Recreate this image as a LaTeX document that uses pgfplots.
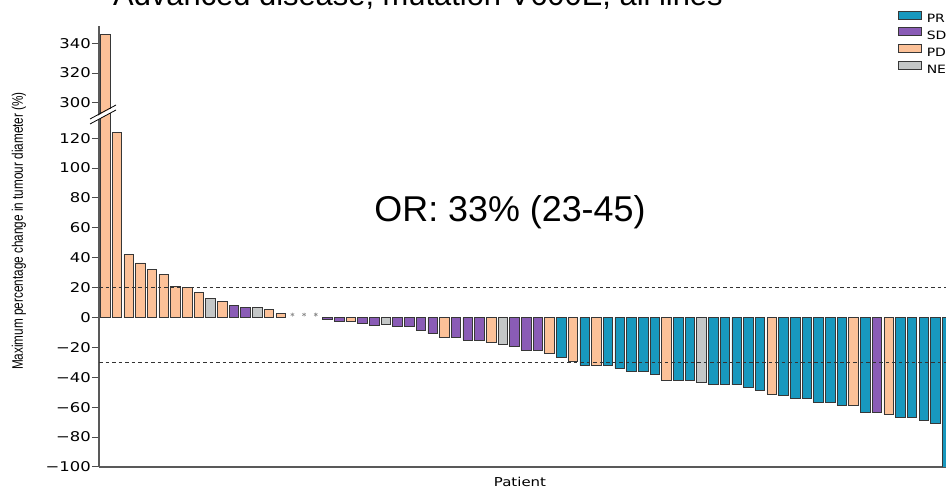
\documentclass[border=0pt]{standalone}
\usepackage{graphicx}
\usepackage{fontspec}
\setmainfont{Liberation Sans}
\newfontfamily\tickfont[FakeStretch=1.22]{DejaVu Sans}
\usepackage{pgfplots}
\usepackage{pgfplotstable}
\pgfplotsset{compat=1.18}
\definecolor{prc}{RGB}{24,152,190}
\definecolor{sdc}{RGB}{138,92,182}
\definecolor{pdc}{RGB}{252,193,152}
\definecolor{nec}{RGB}{196,199,199}
\definecolor{edge}{RGB}{55,55,55}

% values above the axis break are stored as (value - 156.5)
\pgfplotstableread{
x y
40 -27
42 -32
44 -32
45 -34
46 -36
47 -36
48 -38
50 -42
51 -42
53 -45
54 -45
55 -45
56 -47
57 -48.7
59 -52.4
60 -54
61 -54
62 -57
63 -57
64 -59
66 -63.6
69 -67
70 -67
71 -69
72 -70.6
73 -105
}\prtab
\pgfplotstableread{
x y
12 8
13 6.5
20 -1.5
21 -2.5
23 -4
24 -5
26 -6
27 -6
28 -8.5
29 -10.7
31 -13
32 -15
33 -15
36 -19.5
37 -21.7
38 -21.7
67 -63.6
}\sdtab
\pgfplotstableread{
x y
1 189.5
2 124
3 42
4 36.5
5 32
6 29
7 21
8 20
9 17
11 11
15 5.4
16 2.5
22 -2.5
30 -13
34 -16.4
39 -24
41 -29.4
43 -32
49 -42
58 -51.3
65 -59
68 -65
}\pdtab
\pgfplotstableread{
x y
10 13
14 6.5
25 -4.5
35 -18
52 -43.6
}\netab

\begin{document}
\begin{tikzpicture}
\begin{axis}[
  scale only axis,
  width=847bp, height=441bp,
  xmin=0.46, xmax=72.9,
  ymin=-100, ymax=195,
  axis x line*=bottom, axis y line*=left,
  axis line style={-, line width=1.3bp, black!65},
  xtick=\empty,
  ytick={-100,-80,-60,-40,-20,0,20,40,60,80,100,120,143.5,163.5,183.5},
  yticklabels={−100,−80,−60,−40,−20,0,20,40,60,80,100,120,300,320,340},
  tick align=outside,
  major tick length=7bp,
  tick style={line width=1bp, black!70},
  yticklabel style={font=\fontsize{13.5}{13.5}\tickfont, inner sep=0pt, xshift=-1bp},
  ybar, bar shift=0pt, bar width=0.82,
  every axis plot/.append style={draw=edge, line width=0.8bp},
  legend style={draw=none, fill=none, inner sep=0pt, outer sep=0pt,
    at={(0.9433,1.0347)}, anchor=north west,
    font=\fontsize{11.5}{11.5}\tickfont, row sep=4.7bp, column sep=5bp,
    nodes={inner sep=0pt, text height=8bp, text depth=0pt}},
  legend cell align=left,
  legend image code/.code={\draw[#1] (0bp,-0.3bp) rectangle (23bp,7.7bp);},
]
\addplot[fill=prc] table[x=x,y=y] {\prtab};
\addlegendentry{PR}
\addplot[fill=sdc] table[x=x,y=y] {\sdtab};
\addlegendentry{SD}
\addplot[fill=pdc] table[x=x,y=y] {\pdtab};
\addlegendentry{PD}
\addplot[fill=nec] table[x=x,y=y] {\netab};
\addlegendentry{NE}
\addplot[forget plot, sharp plot, no marks, draw=black!80, line width=0.9bp, dash pattern=on 3.5bp off 3bp] coordinates {(0.46,20) (72.9,20)};
\addplot[forget plot, sharp plot, no marks, draw=black!80, line width=0.9bp, dash pattern=on 3.5bp off 3bp] coordinates {(0.46,-30) (72.9,-30)};
\addplot[forget plot, only marks, mark=asterisk, mark size=2bp, draw=black!45, line width=0.6bp] coordinates {(17,2) (18,2) (19,2)};
\end{axis}
% axis break
\fill[white] (-9bp,347bp) -- (17bp,361bp) -- (17bp,357bp) -- (-9bp,343bp) -- cycle;
\draw[line width=0.8bp, black] (-9bp,348bp) -- (17bp,362bp);
\draw[line width=0.8bp, black] (-9bp,343bp) -- (17bp,357bp);
% texts
\node[anchor=base west, inner sep=0pt, font=\fontsize{31}{31}\selectfont] at (14bp,461.5bp) {Advanced disease, mutation V600E, all lines};
\node[anchor=base, inner sep=0pt, font=\fontsize{36}{36}\selectfont] at (411bp,245.3bp) {OR: 33\% (23-45)};
\node[inner sep=0pt, font=\fontsize{12.3}{12.3}\tickfont] at (421bp,-15bp) {Patient};
\node[rotate=90, inner sep=0pt] at (-80bp,236bp) {\scalebox{1}[1.3]{\fontsize{11.8}{11.8}\selectfont Maximum percentage change in tumour diameter (\%)}};
\pgfresetboundingbox
\path[use as bounding box] (-99bp,-22bp) rectangle (847bp,467bp);
\end{tikzpicture}
\end{document}
